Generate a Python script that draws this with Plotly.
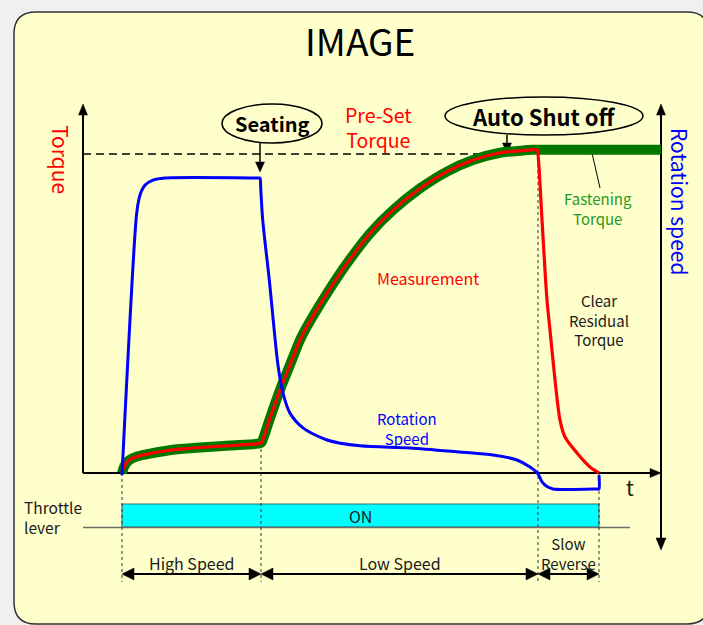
import plotly.graph_objects as go

# ---------------- data (t in ms, torque in % of preset, speed in % of high speed) -------------
TORQUE_T = [0, 2, 5, 9, 15, 28, 43, 58, 78, 108, 138, 139.5, 148, 158, 168, 178, 183, 205, 225,
            248, 271, 298, 325, 351, 378, 398, 410, 415, 416.5, 420, 425, 428, 433, 438, 443, 455,
            468, 477]
TORQUE = [0, 1.9, 3.4, 4.4, 5.2, 6.1, 6.9, 7.5, 8.0, 8.6, 9.3, 9.6, 17.2, 26.0, 33.9, 41.7, 44.8,
          56.3, 65.7, 75.1, 82.4, 89.2, 94.5, 98.1, 100.4, 101.0, 101.3, 101.3, 98.0, 79.3, 54.2,
          44.8, 29.2, 16.6, 11.3, 6.3, 1.9, 0]

FASTEN_T = [0, 2, 5, 9, 15, 28, 43, 58, 78, 108, 138, 139.5, 148, 158, 168, 178, 183, 205, 225,
            248, 271, 298, 325, 351, 378, 398, 410, 416, 539]
FASTEN = [0, 1.9, 3.4, 4.4, 5.2, 6.1, 6.9, 7.5, 8.0, 8.6, 9.3, 9.6, 17.2, 26.0, 33.9, 41.7, 44.8,
          56.3, 65.7, 75.1, 82.4, 89.2, 94.5, 98.1, 100.4, 101.0, 101.3, 101.3, 101.3]

SPEED_T = [0, 14.5, 17, 19.5, 23, 31, 43, 137, 138, 138.8, 140.7, 147.3, 156, 161, 168, 181, 205,
           238, 288, 338, 371, 395, 408, 416, 420, 425, 431, 476, 477, 477]
SPEED = [-0.7, 87.5, 92.9, 95.6, 97.6, 99.3, 100, 100, 100, 96, 85.8, 65.4, 36.5, 27.1, 20.3,
         15.3, 11.2, 9.2, 8.5, 7.1, 6.1, 4.4, 2.0, -0.3, -3.0, -4.6, -5.4, -5.4, -5.4, -0.7]

PRESET_TORQUE = 100
PHASE_BOUNDS = [0, 139, 416, 477]
PHASE_LABELS = ["High Speed", "Low Speed", "Slow<br>Reverse"]
THROTTLE_ON = [0, 477]
THROTTLE_LABEL = "ON"

# ---------------- layout geometry ----------------
W, H = 703, 625
T0_PX = 122          # pixel column of t = 0
BASE_PX = 473        # pixel row of zero torque / zero speed
TQ_PX = 3.19         # pixels per torque unit
SP_PX = 2.95         # pixels per speed unit


def tx(t):
    """time value -> pixel column (same scale as the x axis)"""
    return T0_PX + t


def ty(q):
    """torque value -> pixel row (same scale as the y axis)"""
    return BASE_PX - TQ_PX * q


FONT = "Noto Sans CJK JP"
BG_OUT = "#f0f0f0"
BG_IN = "#ffffcc"
INK = "#1a1a1a"

fig = go.Figure()

# invisible trace for the pixel-space decoration axes
fig.add_trace(go.Scatter(x=[0, W], y=[0, H], xaxis="x2", yaxis="y2", mode="markers",
                         marker=dict(opacity=0), showlegend=False, hoverinfo="skip"))

fig.add_trace(go.Scatter(x=FASTEN_T, y=FASTEN, mode="lines",
                         line=dict(color="#007800", width=10, shape="spline", smoothing=0.8),
                         showlegend=False, hoverinfo="skip"))
fig.add_trace(go.Scatter(x=SPEED_T, y=SPEED, yaxis="y3", mode="lines",
                         line=dict(color="#0000ff", width=3, shape="spline", smoothing=0.8),
                         showlegend=False, hoverinfo="skip"))
fig.add_trace(go.Scatter(x=TORQUE_T, y=TORQUE, mode="lines",
                         line=dict(color="#ff0000", width=3.2, shape="spline", smoothing=0.8),
                         showlegend=False, hoverinfo="skip"))

shapes = []


def rounded_rect(x0, y0, x1, y1, r):
    return (f"M {x0 + r},{y0} L {x1 - r},{y0} Q {x1},{y0} {x1},{y0 + r} "
            f"L {x1},{y1 - r} Q {x1},{y1} {x1 - r},{y1} L {x0 + r},{y1} "
            f"Q {x0},{y1} {x0},{y1 - r} L {x0},{y0 + r} Q {x0},{y0} {x0 + r},{y0} Z")


def tri(x, y, d, length=11, half=4.5):
    if d == "up":
        p = f"M {x},{y} L {x - half},{y + length} L {x + half},{y + length} Z"
    elif d == "down":
        p = f"M {x},{y} L {x - half},{y - length} L {x + half},{y - length} Z"
    elif d == "right":
        p = f"M {x},{y} L {x - length},{y - half} L {x - length},{y + half} Z"
    else:
        p = f"M {x},{y} L {x + length},{y - half} L {x + length},{y + half} Z"
    return dict(type="path", path=p, xref="x2", yref="y2", fillcolor="black",
                line=dict(color="black", width=0.5), layer="below")


def seg(x0, y0, x1, y1, color="black", width=2, dash=None):
    ln = dict(color=color, width=width)
    if dash:
        ln["dash"] = dash
    return dict(type="line", x0=x0, y0=y0, x1=x1, y1=y1, xref="x2", yref="y2", line=ln,
                layer="below")


# panel
shapes.append(dict(type="path", path=rounded_rect(14, 12, 709, 624, 22), xref="x2", yref="y2",
                   fillcolor=BG_IN, line=dict(color="#333333", width=1.5), layer="below"))

# throttle lane
shapes.append(dict(type="rect", x0=tx(THROTTLE_ON[0]), x1=tx(THROTTLE_ON[1]), y0=504, y1=527,
                   xref="x2", yref="y2", fillcolor="#00ffff",
                   line=dict(color="#2a7070", width=1), layer="below"))
shapes.append(seg(83, 527.5, 630, 527.5, color="#6e6e6e", width=1.5))

# guide lines at phase boundaries
guide_top = [BASE_PX, 443, 152, BASE_PX]
for tb, top in zip(PHASE_BOUNDS, guide_top):
    shapes.append(seg(tx(tb), top, tx(tb), 582, color="#333333", width=1, dash="dot"))

# preset torque dashed line
shapes.append(seg(83, ty(PRESET_TORQUE), 480, ty(PRESET_TORQUE), width=1.5, dash="8px,5px"))

# axes
shapes.append(seg(83, BASE_PX, 83, 112))
shapes.append(tri(83, 104, "up"))
shapes.append(seg(83, BASE_PX, 652, BASE_PX))
shapes.append(tri(661, BASE_PX, "right"))
shapes.append(seg(661, 112, 661, 540))
shapes.append(tri(661, 104, "up"))
shapes.append(tri(661, 550, "down", length=12, half=5))

# phase arrows
for a, b in zip(PHASE_BOUNDS[:-1], PHASE_BOUNDS[1:]):
    shapes.append(seg(tx(a) + 6, 574, tx(b) - 6, 574, width=2))
    shapes.append(tri(tx(a), 574, "left", length=12, half=6))
    shapes.append(tri(tx(b), 574, "right", length=12, half=6))

# callouts
shapes.append(dict(type="circle", x0=222, x1=322, y0=104, y1=143, xref="x2", yref="y2",
                   fillcolor=BG_IN, line=dict(color="black", width=1.5), layer="above"))
shapes.append(seg(260, 143, 260, 163, width=1.5))
shapes.append(tri(260, 172, "down", length=10, half=4.5))
shapes.append(dict(type="circle", x0=445, x1=643, y0=97, y1=135, xref="x2", yref="y2",
                   fillcolor=BG_IN, line=dict(color="black", width=1.5), layer="above"))
shapes.append(seg(507, 135, 507, 144, width=1.5))
shapes.append(tri(507, 153, "down", length=10, half=4.5))
shapes.append(seg(592, 153, 600, 188, width=1))

annotations = []


def txt(x, y, s, size, color=INK, angle=0, xanchor="center", align="center"):
    annotations.append(dict(x=x, y=y, xref="x2", yref="y2", text=s, showarrow=False,
                            font=dict(family=FONT, size=size, color=color), textangle=angle,
                            xanchor=xanchor, yanchor="middle", align=align))


txt(360, 40, "IMAGE", 37, color="black")
txt(272, 123, "<b>Seating</b>", 20, color="black")
txt(543, 116, "<b>Auto Shut off</b>", 22, color="black")
txt(378, 127, "Pre-Set<br>Torque", 19.5, color="#ff0000")
txt(61, 159, "Torque", 21, color="#ff0000", angle=90)
txt(680, 201, "Rotation speed", 21, color="#0000ff", angle=90)
txt(598, 208, "Fastening<br>Torque", 15, color="#1f991f")
txt(428, 278, "Measurement", 16, color="#ff0000")
txt(599, 320, "Clear<br>Residual<br>Torque", 15)
txt(407, 428, "Rotation<br>Speed", 15, color="#0000ff")
txt(630, 487, "t", 21)
txt(22, 517, "Throttle<br>lever", 15.5, xanchor="left", align="left")
txt(tx((THROTTLE_ON[0] + THROTTLE_ON[1]) / 2), 516, THROTTLE_LABEL, 16)

for (a, b), label in zip(zip(PHASE_BOUNDS[:-1], PHASE_BOUNDS[1:]), PHASE_LABELS):
    n = label.count("<br>")
    txt(tx((a + b) / 2), 563 - 9.5 * n, label, 16 if n == 0 else 15)

ax_common = dict(visible=False, showgrid=False, zeroline=False, fixedrange=True)
fig.update_layout(
    width=W, height=H, margin=dict(l=0, r=0, t=0, b=0), autosize=False,
    paper_bgcolor=BG_OUT, plot_bgcolor="rgba(0,0,0,0)", showlegend=False,
    xaxis=dict(range=[-T0_PX, W - T0_PX], domain=[0, 1], **ax_common),
    yaxis=dict(range=[(BASE_PX - H) / TQ_PX, BASE_PX / TQ_PX], domain=[0, 1], **ax_common),
    yaxis3=dict(range=[(BASE_PX - H) / SP_PX, BASE_PX / SP_PX], overlaying="y", **ax_common),
    xaxis2=dict(range=[0, W], overlaying="x", **ax_common),
    yaxis2=dict(range=[H, 0], overlaying="y", **ax_common),
    shapes=shapes, annotations=annotations,
)

fig.write_html("out.html", config={"displayModeBar": False},
               post_script="document.body.style.margin='0';document.body.style.overflow='hidden';")
